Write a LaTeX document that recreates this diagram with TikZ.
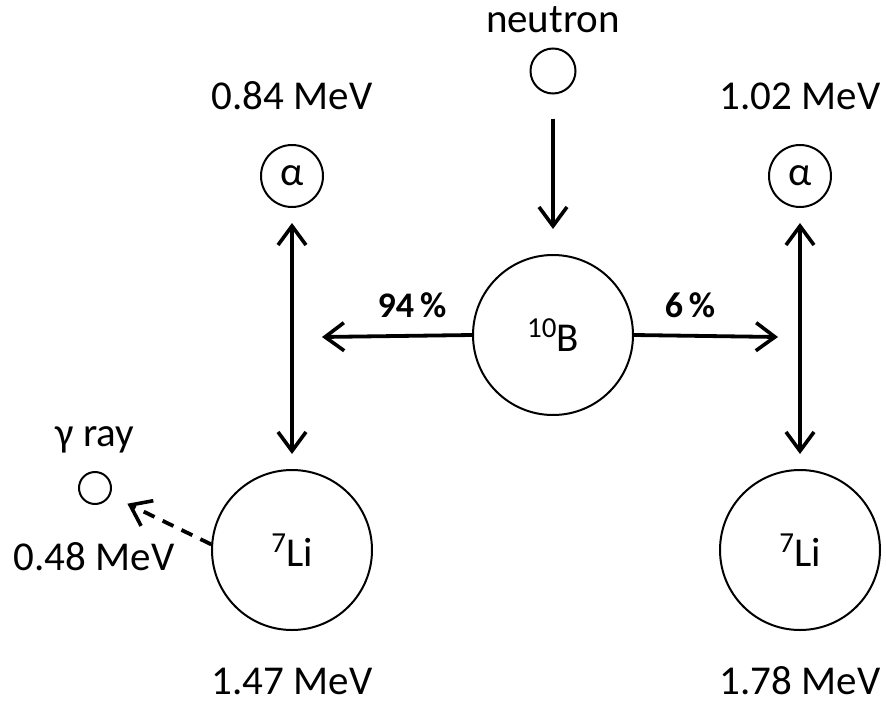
\documentclass[tikz,border=0pt]{standalone}
\usepackage{fontspec}
\setmainfont{Carlito}
\usetikzlibrary{arrows.meta}
\newcommand{\sizetext}{\fontsize{41}{49}\selectfont}
\newcommand{\iso}[2]{\raisebox{14pt}{\fontsize{29}{29}\selectfont #1}#2}
\begin{document}
\begin{tikzpicture}[x=1pt,y=-1pt,
  every node/.style={font=\sizetext},
  particle/.style={draw,circle,line width=2pt,inner sep=0pt},
  energy/.style={inner sep=0pt},
  react/.style={line width=3.8pt,-{Straight Barb[length=19pt,width=28pt,line width=3.6pt]}},
  both/.style={line width=3.8pt,{Straight Barb[length=19pt,width=28pt,line width=3.6pt]}-{Straight Barb[length=19pt,width=28pt,line width=3.6pt]}},
  branch/.style={inner sep=0pt,font=\fontsize{36}{42}\selectfont\bfseries}]
\useasboundingbox (0,0) rectangle (886,704);

% incoming neutron and the boron nucleus
\node[energy] (nlab) at (553,20) {neutron};
\node[particle,minimum size=45pt] (neutron) at (553,71) {};
\node[particle,minimum size=160pt] (boron) at (553,335) {\iso{10}{B}};
\draw[react,shorten <=24pt,shorten >=25pt] (neutron) -- (boron);

% 94 % branch (left)
\coordinate (leftend) at (322,337);
\draw[react] (boron.west) -- (leftend);
\node[branch] (p94) at (412,305) {94\,\%};
\node[energy] (eal) at (292,96) {0.84 MeV};
\node[particle,minimum size=62pt] (alphal) at (292,176) {α};
\node[particle,minimum size=160pt] (lil) at (292,550) {\iso{7}{Li}};
\node[energy] (elil) at (292,681) {1.47 MeV};
\draw[both,shorten <=15pt,shorten >=15pt] (alphal) -- (lil);

% gamma emission from the excited lithium
\node[energy] (glab) at (95,440) {γ ray};
\node[particle,minimum size=32pt] (gamma) at (95,488) {};
\node[energy] (eg) at (94,557) {0.48 MeV};
\draw[react,dashed,dash pattern=on 12pt off 9pt,shorten >=19pt] (lil.176) -- (gamma);

% 6 % branch (right)
\coordinate (rightend) at (778,337);
\draw[react] (boron.east) -- (rightend);
\node[branch] (p6) at (690,305) {6\,\%};
\node[energy] (ear) at (800,96) {1.02 MeV};
\node[particle,minimum size=62pt] (alphar) at (800,176) {α};
\node[particle,minimum size=160pt] (lir) at (800,550) {\iso{7}{Li}};
\node[energy] (elir) at (800,681) {1.78 MeV};
\draw[both,shorten <=15pt,shorten >=15pt] (alphar) -- (lir);
\end{tikzpicture}
\end{document}
